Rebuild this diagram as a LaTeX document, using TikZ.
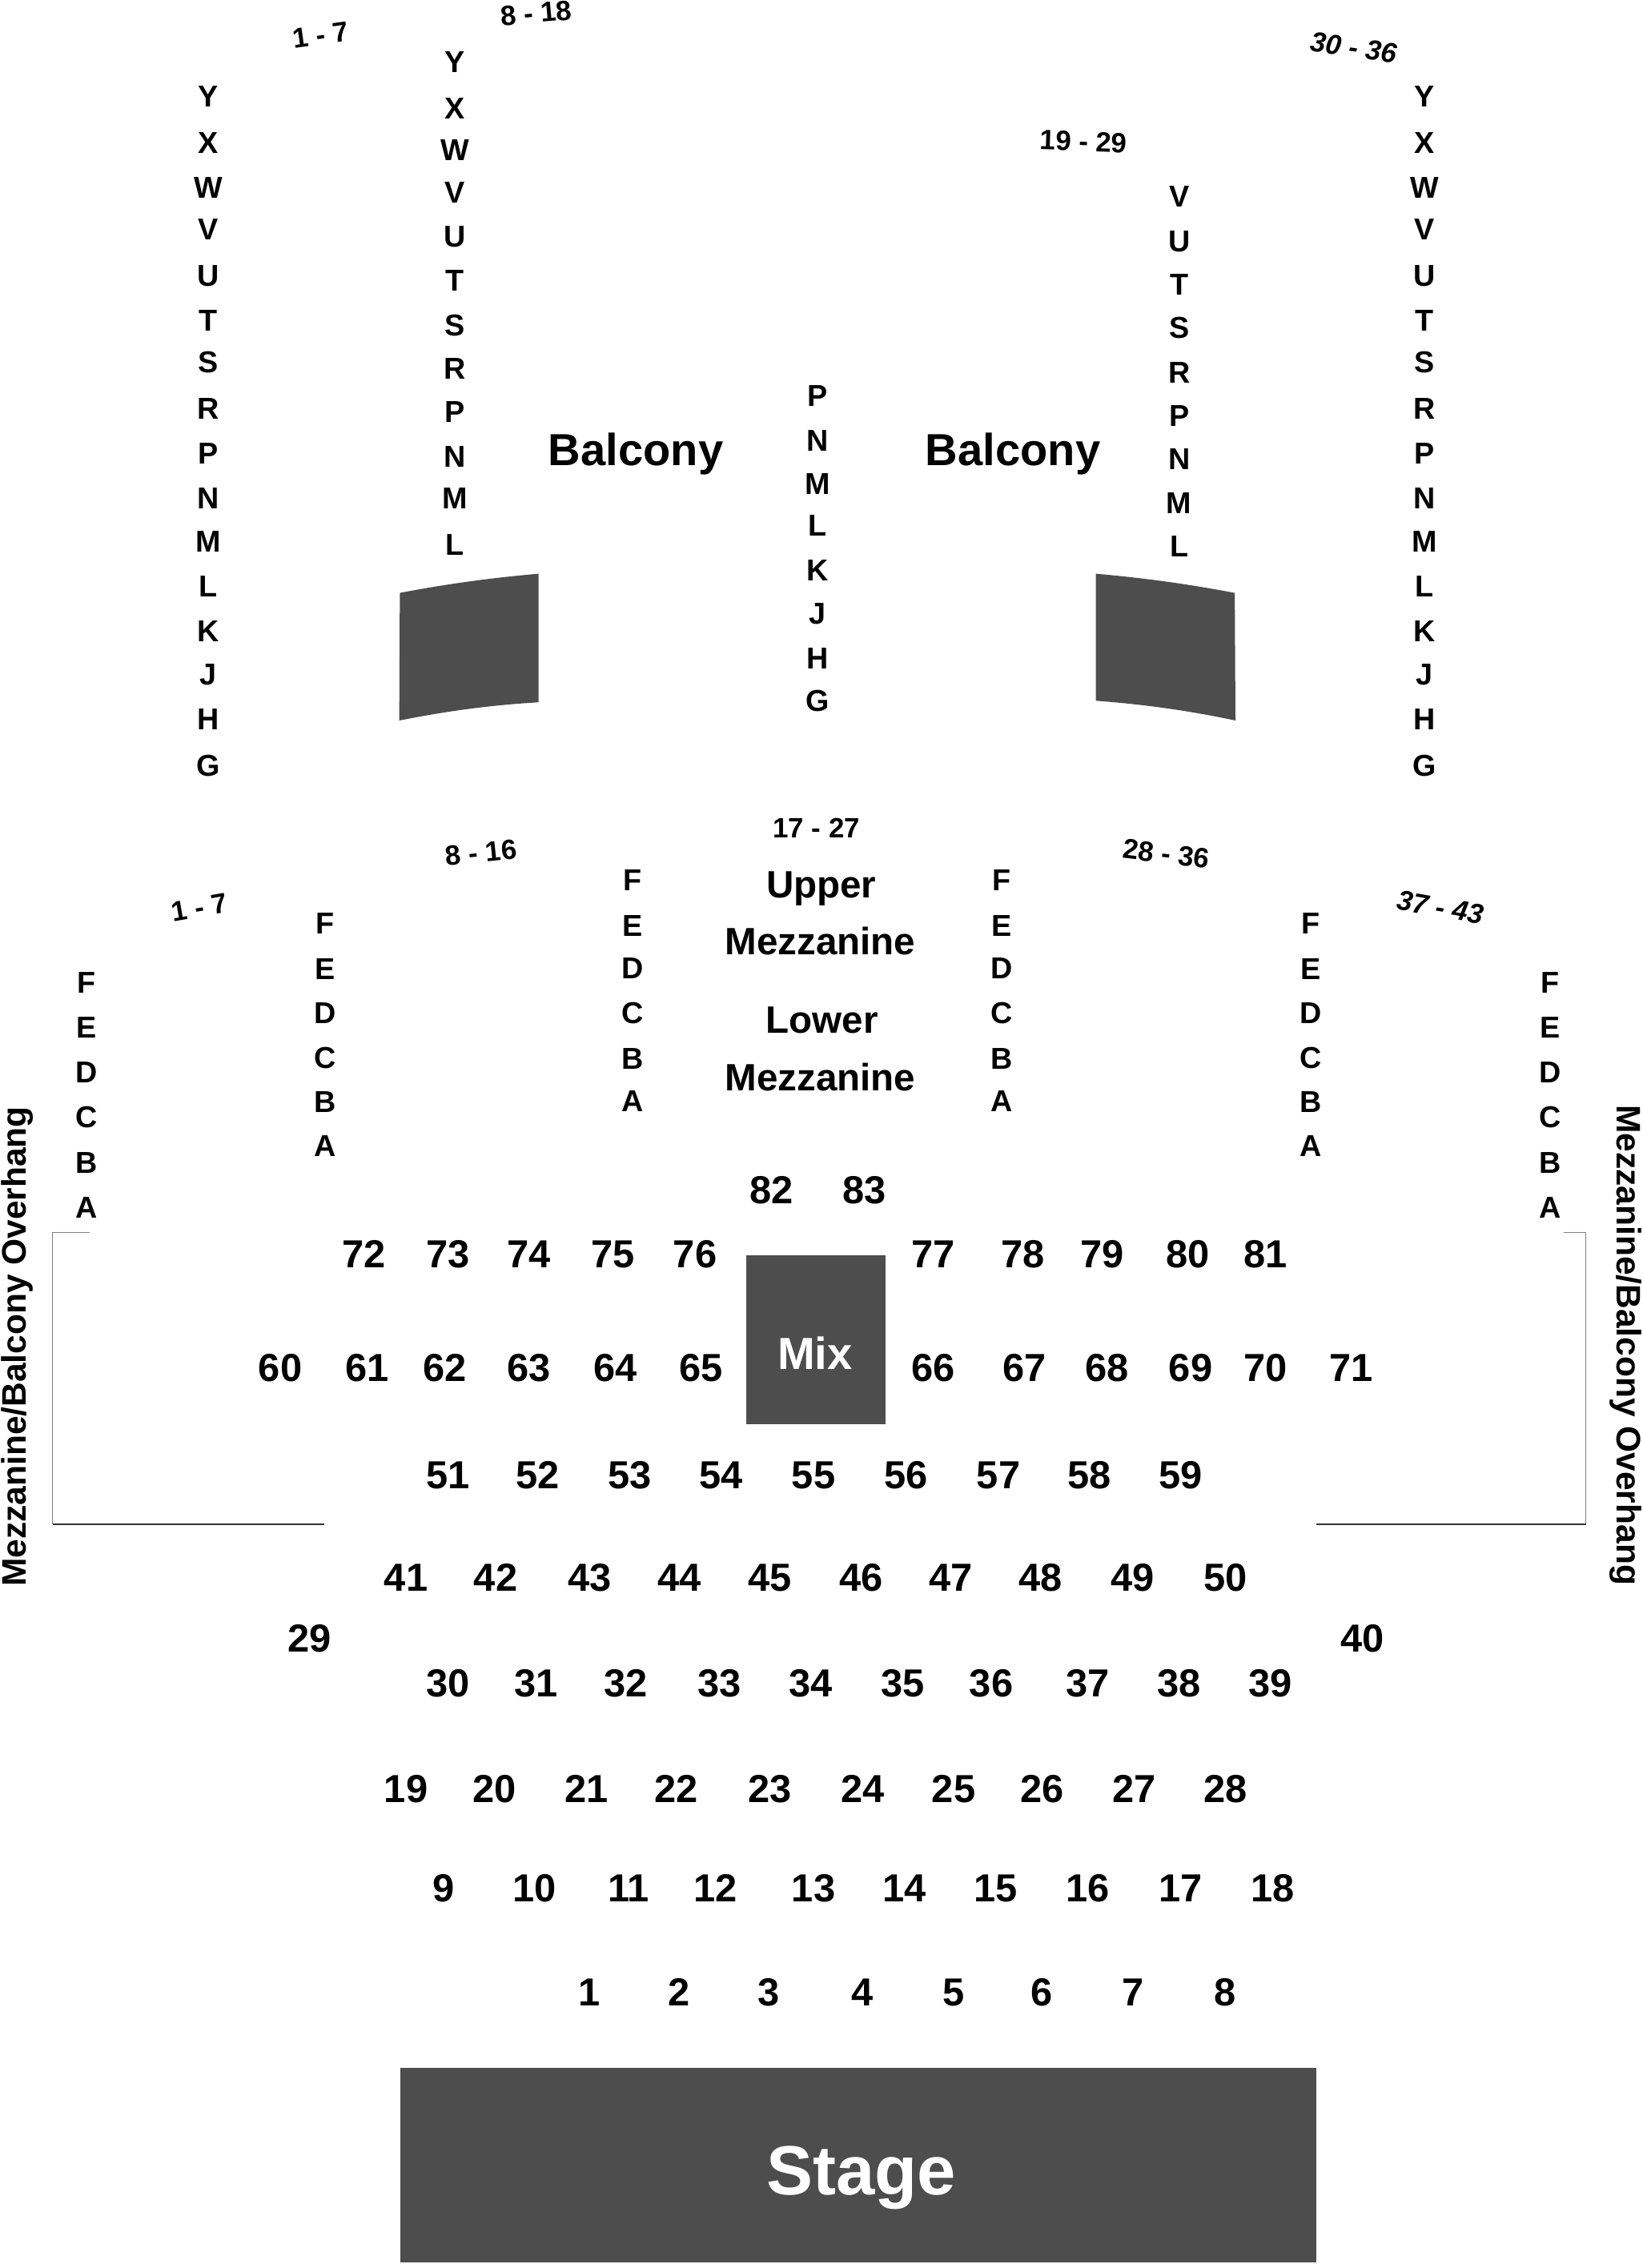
\documentclass[tikz,border=0pt]{standalone}
\usepackage{fontspec}
\setmainfont{Liberation Sans}
\definecolor{blockgray}{HTML}{4D4D4D}
\tikzset{
  seatnum/.style={inner sep=0pt,font=\bfseries\fontsize{15.4}{18}\selectfont},
  rowlabel/.style={inner sep=0pt,font=\bfseries\fontsize{11.9}{14}\selectfont},
  rangelabel/.style={inner sep=0pt,font=\bfseries\fontsize{11}{13}\selectfont},
  levellabel/.style={inner sep=0pt,anchor=base,font=\bfseries\fontsize{15}{18}\selectfont},
  balconylabel/.style={inner sep=0pt,anchor=base,font=\bfseries\fontsize{17.7}{22}\selectfont},
  sidelabel/.style={inner sep=0pt,anchor=base,font=\bfseries\fontsize{13.4}{16}\selectfont},
  overhang/.style={line width=0.35pt},
}
\begin{document}
\begin{tikzpicture}[x=0.02cm,y=-0.02cm]
\useasboundingbox (0,0) rectangle (1137,1569.8);

% dark blocks
\fill[blockgray] (277,1431) rectangle (911,1566);
\fill[blockgray] (516.4,869) rectangle (613,985.5);
\fill[blockgray] (276.7,410.4) .. controls (310,404) and (340,400) .. (372.7,397.1)
      -- (372.7,486.1) .. controls (340,488) and (310,492) .. (276.3,498.7) -- cycle;
\fill[blockgray] (854.5,410.4) .. controls (821,404) and (791,400) .. (758.3,397.1)
      -- (758.3,485) .. controls (791,487.5) and (821,491.5) .. (855,498.7) -- cycle;
\node[inner sep=0pt,anchor=base,text=white,font=\bfseries\fontsize{27.4}{32}\selectfont] (stage) at (596,1519.2) {Stage};
\node[inner sep=0pt,anchor=base,text=white,font=\bfseries\fontsize{17.7}{22}\selectfont] (mix) at (564,947.9) {Mix};

% overhang lines
\draw[overhang,gray] (62,853) -- (36.5,853) -- (36.5,1055);
\draw[overhang,black!80] (36.5,1055) -- (224.5,1055);
\draw[overhang,gray] (1082,853) -- (1097.5,853) -- (1097.5,1055);
\draw[overhang,black!80] (1097.5,1055) -- (911,1055);
\node[sidelabel,rotate=90] (sideleft) at (18,932) {Mezzanine/Balcony Overhang};
\node[sidelabel,rotate=-90] (sideright) at (1119,931) {Mezzanine/Balcony Overhang};

% level names
\node[balconylabel] (balconyleft) at (440,322.3) {Balcony};
\node[balconylabel] (balconyright) at (701,322.3) {Balcony};
\node[levellabel] (upper) at (568.4,621.2) {Upper};
\node[levellabel] (uppermezz) at (567.6,660.9) {Mezzanine};
\node[levellabel] (lower) at (569,715.2) {Lower};
\node[levellabel] (lowermezz) at (567.6,755.1) {Mezzanine};

% section ranges
\node[rangelabel,rotate=8] (rangea) at (222,24) {1 - 7};
\node[rangelabel,rotate=5] (rangeb) at (371,9) {8 - 18};
\node[rangelabel,rotate=-2] (rangec) at (750,98) {19 - 29};
\node[rangelabel,rotate=-8] (ranged) at (937,33) {\itshape 30 - 36};
\node[rangelabel,rotate=10] (rangee) at (138,628) {1 - 7};
\node[rangelabel,rotate=6] (rangef) at (333,590) {8 - 16};
\node[rangelabel] (rangeg) at (565,573) {17 - 27};
\node[rangelabel,rotate=-7] (rangeh) at (807,591) {28 - 36};
\node[rangelabel,rotate=-10] (rangei) at (997,628) {\itshape 37 - 43};

% balcony rows
\foreach \t/\y in {Y/67,X/99,W/130,V/159,U/191,T/222,S/251,R/283,P/314,N/345,M/375,L/406,K/437,J/467,H/498,G/530}{
  \node[rowlabel] (a\t) at (144,\y) {\t};
  \node[rowlabel] (d\t) at (986,\y) {\t};
}
\foreach \t/\y in {Y/43,X/75,W/104,V/133,U/164,T/194,S/225,R/255,P/285,N/316,M/345,L/377}
  \node[rowlabel] (b\t) at (315,\y) {\t};
\foreach \t/\y in {V/136,U/167,T/197,S/227,R/258,P/288,N/318,M/348,L/378}
  \node[rowlabel] (c\t) at (816,\y) {\t};
\foreach \t/\y in {P/274,N/305,M/335,L/364,K/395,J/425,H/456,G/485}
  \node[rowlabel] (e\t) at (566,\y) {\t};

% mezzanine rows
\foreach \t/\y in {F/680,E/711,D/742,C/773,B/805,A/836}{
  \node[rowlabel] (f\t) at (60,\y) {\t};
  \node[rowlabel] (k\t) at (1073,\y) {\t};
}
\foreach \t/\y in {F/639,E/671,D/701,C/732,B/763,A/793}{
  \node[rowlabel] (g\t) at (225,\y) {\t};
  \node[rowlabel] (j\t) at (907,\y) {\t};
}
\foreach \t/\y in {F/609,E/641,D/670,C/701,B/733,A/762}{
  \node[rowlabel] (h\t) at (438,\y) {\t};
  \node[rowlabel] (i\t) at (693,\y) {\t};
}

% tables on the floor
\foreach \t/\x in {1/408,2/470,3/532,4/597,5/660,6/721,7/784,8/848}
  \node[seatnum] (s\t) at (\x,1379) {\t};
\foreach \t/\x in {9/307,10/370,11/435,12/495,13/563,14/626,15/689,16/753,17/817,18/881}
  \node[seatnum] (s\t) at (\x,1307) {\t};
\foreach \t/\x in {19/281,20/342,21/406,22/468,23/533,24/597,25/660,26/721,27/785,28/848}
  \node[seatnum] (s\t) at (\x,1238) {\t};
\foreach \t/\x in {30/310,31/371,32/433,33/498,34/561,35/625,36/686,37/753,38/816,39/879}
  \node[seatnum] (s\t) at (\x,1165) {\t};
\node[seatnum] (s29) at (214,1134) {29};
\node[seatnum] (s40) at (943,1134) {40};
\foreach \t/\x in {41/281,42/343,43/408,44/470,45/533,46/596,47/658,48/720,49/784,50/848}
  \node[seatnum] (s\t) at (\x,1092) {\t};
\foreach \t/\x in {51/310,52/372,53/436,54/499,55/563,56/627,57/691,58/754,59/817}
  \node[seatnum] (s\t) at (\x,1021) {\t};
\foreach \t/\x in {60/194,61/254,62/308,63/366,64/426,65/485,66/646,67/709,68/766,69/824,70/876,71/935}
  \node[seatnum] (s\t) at (\x,947) {\t};
\foreach \t/\x in {72/252,73/310,74/366,75/424,76/481,77/646,78/708,79/763,80/822,81/876}
  \node[seatnum] (s\t) at (\x,868) {\t};
\node[seatnum] (s82) at (534,824) {82};
\node[seatnum] (s83) at (598,824) {83};
\end{tikzpicture}
\end{document}
